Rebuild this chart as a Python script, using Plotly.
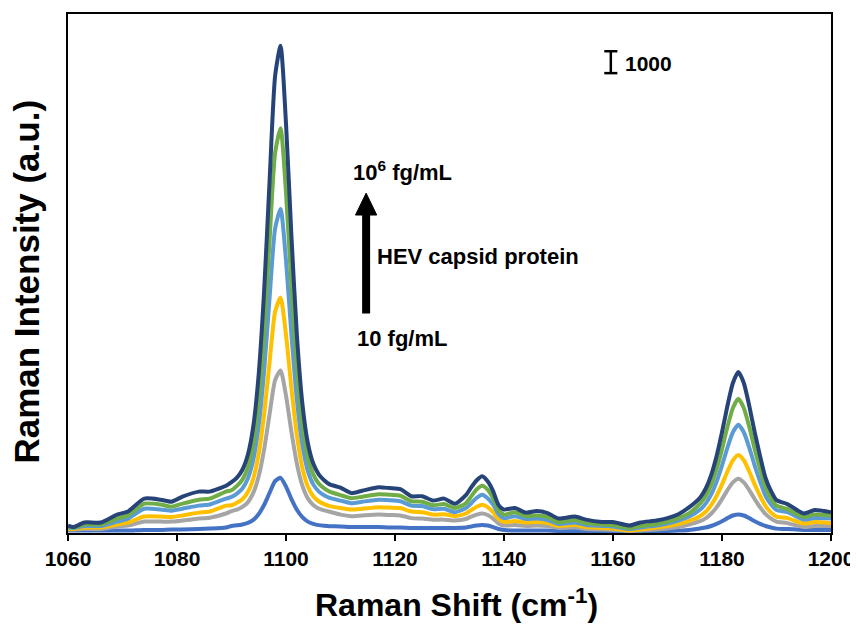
import plotly.graph_objects as go

# Raman shift grid (cm^-1)
shift = [1060, 1061, 1063, 1066, 1069, 1071, 1074, 1077, 1079, 1081, 1084, 1086, 1089,
         1090, 1091, 1092, 1093, 1094, 1095, 1096, 1097, 1098, 1099, 1100, 1101, 1102, 1103, 1104, 1105, 1106, 1107, 1108,
         1110, 1112, 1114, 1117, 1119, 1121, 1123, 1125, 1127, 1129, 1131, 1133, 1134, 1135, 1136, 1137, 1138, 1139, 1140,
         1142, 1144, 1146, 1148, 1150, 1153, 1155, 1158, 1160, 1163, 1165, 1168, 1170, 1172, 1174,
         1176, 1177, 1178, 1179, 1180, 1181, 1182, 1183, 1184, 1185, 1186, 1187, 1188, 1189, 1190, 1192, 1195, 1197, 1200]

# Raman intensity (a.u.) for each HEV capsid protein concentration
c10 = [110, 110, 110, 110, 110, 110, 140, 140, 160, 160, 180, 200, 250,
       320, 350, 390, 460, 600, 870, 1290, 1840, 2370, 2520, 2120, 1550, 1060, 720, 520, 420, 360, 330, 310,
       300, 270, 270, 270, 250, 250, 230, 230, 230, 230, 230, 250, 300, 340, 360, 340, 270, 180, 140,
       110, 110, 110, 110, 90, 90, 90, 90, 90, 70, 70, 90, 90, 110, 140,
       210, 250, 320, 420, 540, 680, 800, 850, 800, 680, 540, 420, 320, 250, 200, 180, 140, 140, 140]
c1e2 = [160, 160, 180, 180, 300, 340, 520, 520, 520, 570, 660, 700, 890,
        1000, 1070, 1190, 1400, 1830, 2600, 3830, 5450, 6980, 7420, 6270, 4610, 3160, 2160, 1580, 1280, 1120, 1030, 970,
        840, 770, 800, 840, 820, 800, 680, 660, 610, 610, 570, 640, 750, 840, 890, 820, 660, 430, 340,
        360, 320, 340, 320, 230, 250, 180, 160, 140, 90, 110, 160, 200, 270, 390,
        540, 670, 880, 1170, 1550, 1960, 2310, 2480, 2310, 1960, 1550, 1170, 860, 660, 520, 450, 270, 320, 320]
c1e3 = [200, 180, 250, 250, 390, 480, 750, 750, 730, 800, 930, 980, 1250,
        1270, 1380, 1540, 1870, 2490, 3630, 5450, 7840, 10100, 10750, 9050, 6600, 4450, 2980, 2120, 1680, 1450, 1320, 1230,
        1140, 1070, 1110, 1180, 1160, 1140, 980, 950, 840, 860, 770, 890, 1050, 1200, 1290, 1180, 950, 640, 500,
        550, 480, 500, 450, 320, 360, 270, 230, 200, 110, 160, 250, 320, 410, 550,
        780, 970, 1270, 1690, 2220, 2810, 3320, 3560, 3320, 2810, 2220, 1690, 1230, 930, 750, 680, 430, 500, 450]
c1e4 = [250, 230, 320, 320, 520, 660, 1110, 1070, 1020, 1110, 1250, 1300, 1570,
        1650, 1800, 2030, 2490, 3350, 4930, 7450, 10780, 13900, 14800, 12450, 9050, 6080, 4030, 2840, 2220, 1900, 1720, 1600,
        1480, 1360, 1430, 1520, 1500, 1450, 1250, 1230, 1090, 1110, 950, 1140, 1360, 1610, 1750, 1590, 1300, 860, 680,
        770, 640, 660, 590, 410, 480, 360, 320, 300, 180, 250, 340, 430, 570, 750,
        1070, 1340, 1750, 2340, 3080, 3900, 4600, 4940, 4600, 3900, 3080, 2340, 1680, 1300, 1050, 950, 610, 680, 660]
c1e5 = [300, 250, 390, 390, 660, 800, 1340, 1300, 1200, 1340, 1520, 1570, 1890,
        1950, 2150, 2440, 3000, 4090, 6080, 9250, 13430, 17350, 18480, 15540, 11270, 7520, 4950, 3450, 2680, 2260, 2040, 1890,
        1730, 1590, 1660, 1770, 1750, 1700, 1450, 1430, 1270, 1320, 1140, 1360, 1680, 2000, 2160, 1980, 1590, 1050, 840,
        950, 770, 800, 730, 500, 590, 450, 390, 360, 230, 320, 410, 520, 680, 910,
        1350, 1680, 2190, 2910, 3830, 4850, 5710, 6130, 5710, 4850, 3830, 2910, 2090, 1590, 1250, 1090, 730, 840, 800]
c1e6 = [340, 270, 480, 480, 840, 980, 1570, 1520, 1430, 1660, 1890, 1890, 2160,
        2320, 2530, 2890, 3570, 4870, 7280, 11110, 16150, 20870, 22250, 18700, 13540, 9020, 5910, 4110, 3170, 2680, 2410, 2220,
        2070, 1820, 1930, 2090, 2050, 2000, 1680, 1680, 1480, 1570, 1340, 1730, 2090, 2410, 2590, 2360, 1910, 1270, 1070,
        1140, 930, 1000, 910, 660, 750, 610, 500, 500, 340, 480, 570, 680, 860, 1180,
        1620, 2020, 2630, 3500, 4600, 5810, 6850, 7350, 6850, 5810, 4600, 3500, 2500, 1910, 1500, 1320, 890, 1050, 950]

series_names = ["10 fg/mL", "10^2 fg/mL", "10^3 fg/mL", "10^4 fg/mL", "10^5 fg/mL", "10^6 fg/mL"]
series_values = [c10, c1e2, c1e3, c1e4, c1e5, c1e6]
series_colors = ["#4472C4", "#A5A5A5", "#FFC000", "#5B9BD5", "#70AD47", "#264478"]

x_ticks = [1060, 1080, 1100, 1120, 1140, 1160, 1180, 1200]
scale_bar_value = 1000

FONT = "Liberation Sans, Arial, sans-serif"

fig = go.Figure()
for name, vals, col in zip(series_names, series_values, series_colors):
    fig.add_trace(go.Scatter(x=shift, y=vals, mode="lines", name=name,
                             line=dict(color=col, width=4, shape="spline", smoothing=0.6)))

# arrow (concentration increase)
ax_x = 1114.7
fig.add_shape(type="line", x0=ax_x, x1=ax_x, y0=10020, y1=14650, xref="x", yref="y",
              line=dict(color="black", width=8))
fig.add_shape(type="path", xref="x", yref="y",
              path=f"M {ax_x-1.95},14520 L {ax_x+1.95},14520 L {ax_x},15520 Z",
              fillcolor="black", line=dict(color="black", width=1))

# scale bar
sb_x = 1159.6
sb_y0 = 21000
for shp in [dict(x0=sb_x, x1=sb_x, y0=sb_y0, y1=sb_y0 + scale_bar_value),
            dict(x0=sb_x - 1.2, x1=sb_x + 1.2, y0=sb_y0, y1=sb_y0),
            dict(x0=sb_x - 1.2, x1=sb_x + 1.2, y0=sb_y0 + scale_bar_value, y1=sb_y0 + scale_bar_value)]:
    fig.add_shape(type="line", xref="x", yref="y", line=dict(color="black", width=2.5), **shp)

annot_font = dict(family=FONT, size=22, color="black", weight="bold")
fig.add_annotation(x=sb_x + 2.3, y=21450, xref="x", yref="y", text=str(scale_bar_value),
                   showarrow=False, xanchor="left", yanchor="middle",
                   font=dict(family=FONT, size=21, color="black", weight="bold"))
fig.add_annotation(x=1112.0, y=16550, xref="x", yref="y", text="10<sup>6</sup> fg/mL",
                   showarrow=False, xanchor="left", yanchor="middle", font=annot_font)
fig.add_annotation(x=1116.4, y=12610, xref="x", yref="y", text="HEV capsid protein",
                   showarrow=False, xanchor="left", yanchor="middle", font=annot_font)
fig.add_annotation(x=1112.6, y=8890, xref="x", yref="y", text="10 fg/mL",
                   showarrow=False, xanchor="left", yanchor="middle", font=annot_font)

# axis titles
fig.add_annotation(x=0.509, y=-0.134, xref="paper", yref="paper", text="Raman Shift (cm<sup>-1</sup>)",
                   showarrow=False, xanchor="center", yanchor="middle",
                   font=dict(family=FONT, size=32, color="black", weight="bold"))
fig.add_annotation(x=-0.054, y=0.484, xref="paper", yref="paper", text="Raman Intensity (a.u.)",
                   textangle=-90, showarrow=False, xanchor="center", yanchor="middle",
                   font=dict(family=FONT, size=35, color="black", weight="bold"))

# page body adds an 8px margin, so the figure is sized to fit the 858x624 window
fig.update_layout(
    width=850, height=616,
    margin=dict(l=60, r=26, t=4, b=91),
    paper_bgcolor="white", plot_bgcolor="white",
    showlegend=False,
    font=dict(family=FONT, color="black"),
)
fig.update_xaxes(range=[1060, 1200], tickvals=x_ticks, ticks="outside", ticklen=6, tickwidth=2,
                 tickcolor="black", showline=True, linecolor="black", linewidth=2, mirror=True,
                 showgrid=False, zeroline=False,
                 tickfont=dict(family=FONT, size=21, color="black", weight="bold"))
fig.update_yaxes(range=[0, 23700], showticklabels=False, ticks="", showline=True, linecolor="black",
                 linewidth=2, mirror=True, showgrid=False, zeroline=False)

fig.write_html("out.html")
